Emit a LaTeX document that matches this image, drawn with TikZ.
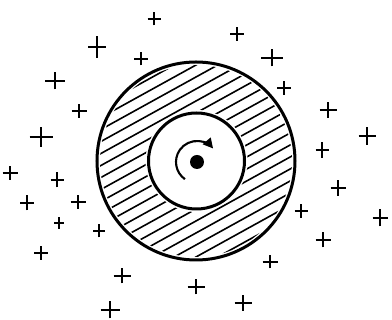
\documentclass[tikz,border=0pt]{standalone}
\usetikzlibrary{arrows.meta}
\tikzset{
  ring/.style={draw, circle, inner sep=0pt, line width=3pt},
  hatchline/.style={line width=1.6pt, line cap=round},
  plusmark/.style={line width=1.8pt},
}
\newcommand{\plusat}[4]{%
  \draw[plusmark] ({#1-#3/2},{320-#2}) -- ({#1+#3/2},{320-#2});
  \draw[plusmark] ({#1},{320-#2-#4/2}) -- ({#1},{320-#2+#4/2});
}
\begin{document}
\begin{tikzpicture}[x=1pt,y=1pt]
\useasboundingbox (0,0) rectangle (392,320);
\fill[white] (0,0) rectangle (392,320);
% hatching in annulus
\begin{scope}
  \clip (196,159) circle[radius=96pt];
  \foreach \d in {-94.5,-84,...,95} {
    \draw[hatchline] ({196-0.485*\d-96},{159+0.875*\d-53}) -- ({196-0.485*\d+96},{159+0.875*\d+53});
  }
\end{scope}
\fill[white] (196.5,159) circle[radius=51pt];
\node[ring, minimum size=198pt] (outer) at (196,159) {};
\node[ring, minimum size=96pt] (inner) at (196.5,159) {};
\node[circle, fill, inner sep=0pt, minimum size=14pt] (dot) at (197,158) {};
\draw[line width=2.1pt, -{Triangle[length=10pt,width=10pt]}] ([shift={(235:21pt)}]dot.center) arc[start angle=235, end angle=40, radius=21pt];
% plus marks
\plusat{154}{19}{13}{13}
\plusat{97}{47}{18}{22}
\plusat{141}{59}{14}{13}
\plusat{237}{34}{14}{14}
\plusat{272}{58}{22}{17}
\plusat{55}{81}{20}{17}
\plusat{284}{88}{14}{14}
\plusat{79}{111}{15}{14}
\plusat{328}{110}{17}{16}
\plusat{41}{137}{23}{20}
\plusat{367}{136}{17}{18}
\plusat{322}{150}{13}{16}
\plusat{10}{173}{15}{14}
\plusat{57}{180}{13}{15}
\plusat{338}{188}{15}{16}
\plusat{27}{203}{14}{15}
\plusat{78}{202}{15}{14}
\plusat{301}{211}{13}{14}
\plusat{380}{218}{15}{17}
\plusat{59}{223}{10}{12}
\plusat{99}{231}{12}{13}
\plusat{323}{240}{15}{15}
\plusat{41}{253}{14}{14}
\plusat{270}{262}{15}{13}
\plusat{122}{276}{17}{15}
\plusat{196}{287}{17}{15}
\plusat{243}{303}{17}{16}
\plusat{110}{310}{19}{17}
\end{tikzpicture}
\end{document}
